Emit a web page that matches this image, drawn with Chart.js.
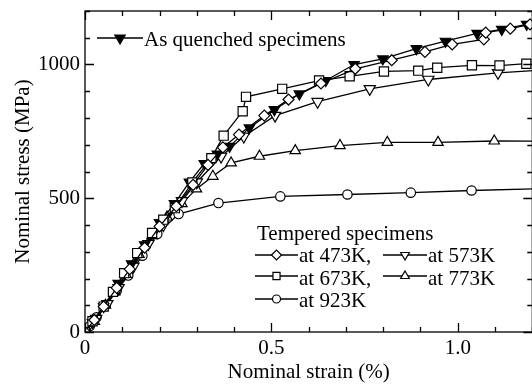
<!DOCTYPE html>
<html>
<head>
<meta charset="utf-8">
<script src="https://cdn.jsdelivr.net/npm/chart.js@4.4.1/dist/chart.umd.min.js"></script>
<style>
  html, body { margin: 0; padding: 0; background: #fff; overflow: hidden; }
  canvas { display: block; }
</style>
</head>
<body>
<canvas id="chart" width="540" height="385"></canvas>
<script>
// Data (strain in %, stress in MPa)
const strainQuenched = [0, 0.02, 0.05, 0.089, 0.125, 0.16, 0.2, 0.24, 0.28, 0.32, 0.355, 0.388, 0.441, 0.508, 0.575, 0.646, 0.722, 0.799, 0.889, 0.967, 1.052, 1.118, 1.185];
const stressQuenched = [0, 35, 95, 182, 255, 326, 409, 480, 560, 630, 665, 694, 763, 831, 890, 940, 1000, 1021, 1059, 1087, 1116, 1131, 1150];

const strain473 = [0, 0.025, 0.05, 0.085, 0.12, 0.16, 0.2, 0.245, 0.29, 0.33, 0.37, 0.413, 0.481, 0.546, 0.633, 0.725, 0.823, 0.912, 0.985, 1.07, 1.075, 1.141, 1.194];
const stress473 = [0, 45, 95, 165, 235, 315, 395, 470, 550, 625, 690, 738, 809, 869, 929, 984, 1016, 1047, 1075, 1094, 1119, 1134, 1150];

const strain573 = [0, 0.03, 0.06, 0.09, 0.13, 0.17, 0.21, 0.26, 0.3, 0.365, 0.426, 0.51, 0.624, 0.764, 0.921, 1.108, 1.25];
const stress573 = [0, 50, 105, 165, 245, 330, 400, 490, 560, 656, 731, 809, 861, 909, 944, 969, 981];

const strain673 = [0, 0.02, 0.05, 0.075, 0.105, 0.14, 0.18, 0.21, 0.241, 0.288, 0.339, 0.372, 0.423, 0.432, 0.529, 0.628, 0.71, 0.802, 0.894, 0.945, 1.038, 1.112, 1.184];
const stress673 = [0, 40, 95, 150, 220, 295, 370, 420, 463, 559, 650, 734, 825, 879, 909, 940, 956, 974, 977, 988, 997, 996, 1003];

const strain773 = [0, 0.025, 0.055, 0.08, 0.11, 0.145, 0.18, 0.22, 0.26, 0.299, 0.343, 0.392, 0.468, 0.564, 0.684, 0.811, 0.947, 1.098, 1.25];
const stress773 = [0, 40, 100, 150, 215, 290, 360, 430, 480, 535, 582, 632, 657, 678, 697, 709, 709, 714, 713];

const strain923 = [0, 0.013, 0.031, 0.056, 0.085, 0.116, 0.154, 0.194, 0.251, 0.358, 0.524, 0.704, 0.874, 1.037, 1.25];
const stress923 = [0, 22, 55, 101, 154, 211, 285, 366, 441, 482, 507, 514, 521, 529, 537];

const xTickValues = [0, 0.5, 1.0];
const yTickValues = [0, 500, 1000];

const FONT_FAMILY = '"Liberation Serif", "Times New Roman", serif';
const FONT = '21px ' + FONT_FAMILY;

function toPoints(xs, ys) {
    return xs.map((x, i) => ({ x: x, y: ys[i] }));
}

function lineSet(label, xs, ys, style, radius, rotation, fill) {
    return {
        label: label,
        data: toPoints(xs, ys),
        borderColor: '#000',
        borderWidth: 1.3,
        pointStyle: style,
        pointRadius: radius,
        pointRotation: rotation || 0,
        pointBackgroundColor: fill || '#fff',
        pointBorderColor: '#000',
        pointBorderWidth: 1.2,
        tension: 0
    };
}

// draws frame, inward ticks on all four sides, and the in-plot legends
const framePlugin = {
    id: 'frame',
    afterDatasetsDraw(chart) {
        const ctx = chart.ctx;
        const area = chart.chartArea;
        const xs = chart.scales.x;
        const ys = chart.scales.y;
        ctx.save();
        ctx.strokeStyle = '#000';
        ctx.lineWidth = 1.3;
        ctx.strokeRect(area.left, area.top, area.right - area.left, area.bottom - area.top);

        ctx.beginPath();
        for (let i = 0; i <= 12; i++) {
            const px = Math.round(xs.getPixelForValue(i / 10)) + 0.5;
            const len = i % 5 === 0 ? 9 : 5;
            ctx.moveTo(px, area.bottom);
            ctx.lineTo(px, area.bottom - len);
            ctx.moveTo(px, area.top);
            ctx.lineTo(px, area.top + len);
        }
        for (let i = 0; i <= 12; i++) {
            const py = Math.round(ys.getPixelForValue(i * 100)) + 0.5;
            const len = i % 5 === 0 ? 9 : 5;
            ctx.moveTo(area.left, py);
            ctx.lineTo(area.left + len, py);
            ctx.moveTo(area.right, py);
            ctx.lineTo(area.right - len, py);
        }
        ctx.stroke();

        // legends
        ctx.font = FONT;
        ctx.fillStyle = '#000';
        ctx.textBaseline = 'alphabetic';
        ctx.textAlign = 'left';

        function entry(x1, x2, y, marker, text, textY) {
            ctx.strokeStyle = '#000';
            ctx.lineWidth = 1.3;
            ctx.beginPath();
            ctx.moveTo(x1, y);
            ctx.lineTo(x2, y);
            ctx.stroke();
            ctx.fillStyle = marker.fill || '#fff';
            ctx.lineWidth = 1.2;
            Chart.helpers.drawPoint(ctx, {
                pointStyle: marker.style,
                rotation: marker.rotation || 0,
                radius: marker.radius,
                borderWidth: 1.2
            }, (x1 + x2) / 2, y);
            ctx.fillStyle = '#000';
            ctx.fillText(text, x2 + 1, textY);
        }

        entry(97, 143, 38, { style: 'triangle', rotation: 180, radius: 6, fill: '#000' }, 'As quenched specimens', 46);

        ctx.fillText('Tempered specimens', 257, 240);
        entry(255, 298, 255, { style: 'rectRot', radius: 5 }, 'at 473K,', 262);
        entry(383, 427, 255, { style: 'triangle', rotation: 180, radius: 5 }, 'at 573K', 262);
        entry(255, 298, 276, { style: 'rect', radius: 5 }, 'at 673K,', 285);
        entry(383, 427, 276, { style: 'triangle', radius: 5 }, 'at 773K', 285);
        entry(255, 298, 299, { style: 'circle', radius: 4 }, 'at 923K', 307);
        ctx.restore();
    }
};

const chart = new Chart(document.getElementById('chart').getContext('2d'), {
    type: 'line',
    data: {
        datasets: [
            lineSet('at 473K', strain473, stress473, 'rectRot', 5.5),
            lineSet('at 673K', strain673, stress673, 'rect', 6.5),
            lineSet('As quenched specimens', strainQuenched, stressQuenched, 'triangle', 6, 180, '#000'),
            lineSet('at 573K', strain573, stress573, 'triangle', 6.5, 180),
            lineSet('at 773K', strain773, stress773, 'triangle', 6),
            lineSet('at 923K', strain923, stress923, 'circle', 4.7)
        ]
    },
    options: {
        responsive: false,
        animation: false,
        layout: { padding: { left: 0, top: 11, right: 6, bottom: 0 } },
        plugins: {
            legend: { display: false },
            tooltip: { enabled: false }
        },
        scales: {
            x: {
                type: 'linear',
                min: 0,
                max: 1.2,
                grid: { display: false, drawTicks: false },
                border: { display: false },
                afterBuildTicks: (scale) => {
                    scale.ticks = xTickValues.map(v => ({ value: v }));
                },
                afterFit: (scale) => {
                    scale.height = 53;
                    scale.paddingLeft = 0;
                    scale.paddingRight = 0;
                },
                ticks: {
                    color: '#000',
                    padding: 4,
                    font: { family: FONT_FAMILY, size: 21 },
                    callback: (v) => v === 0 ? '0' : v.toFixed(1)
                },
                title: {
                    display: true,
                    text: 'Nominal strain (%)',
                    color: '#000',
                    padding: { top: 0, bottom: 0 },
                    font: { family: FONT_FAMILY, size: 21 }
                }
            },
            y: {
                type: 'linear',
                min: 0,
                max: 1200,
                grid: { display: false, drawTicks: false },
                border: { display: false },
                afterBuildTicks: (scale) => {
                    scale.ticks = yTickValues.map(v => ({ value: v }));
                },
                afterFit: (scale) => {
                    scale.width = 85;
                    scale.paddingTop = 0;
                    scale.paddingBottom = 0;
                },
                ticks: {
                    color: '#000',
                    padding: 5,
                    font: { family: FONT_FAMILY, size: 21 },
                    callback: (v) => String(v)
                },
                title: {
                    display: true,
                    text: 'Nominal stress (MPa)',
                    color: '#000',
                    padding: { top: 11, bottom: 0 },
                    font: { family: FONT_FAMILY, size: 21 }
                }
            }
        }
    },
    plugins: [framePlugin]
});
</script>
</body>
</html>
